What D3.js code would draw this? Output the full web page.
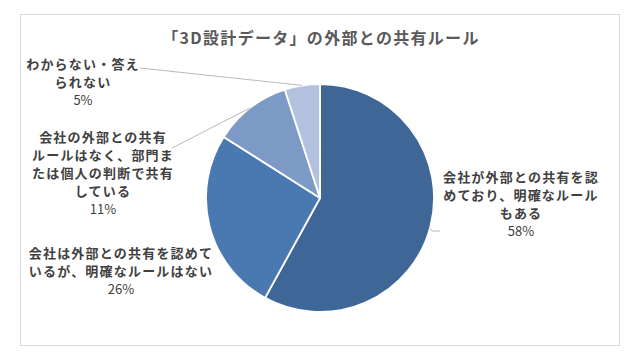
<!DOCTYPE html>
<html><head><meta charset="utf-8">
<script src="https://cdn.jsdelivr.net/npm/d3@7"></script>
<style>
html,body{margin:0;padding:0;background:#fff;}
svg{display:block;font-family:"Noto Sans CJK JP","Noto Sans",sans-serif;}
</style></head>
<body>
<svg id="chart" width="640" height="360"></svg>
<script>
const title = "「3D設計データ」の外部との共有ルール";
const categories = [
  ["会社が外部との共有を認", "めており、明確なルール", "もある"],
  ["会社は外部との共有を認めて", "いるが、明確なルールはない"],
  ["会社の外部との共有", "ルールはなく、部門ま", "たは個人の判断で共有", "している"],
  ["わからない・答え", "られない"]
];
const values = [58, 26, 11, 5];
const percentLabels = ["58%", "26%", "11%", "5%"];
const colors = ["#3e6697", "#4a79b1", "#7d9ac6", "#b2c2de"];

// layout (label centres and leader-line anchors)
const labelPos = [
  {x: 521, y: 176, lx: 440, ly: 231},
  {x: 121, y: 252, lx: null, ly: null},
  {x: 103, y: 136, lx: 172, ly: 148},
  {x: 83,  y: 63,  lx: 140, ly: 68}
];

const svg = d3.select("#chart");
svg.append("rect").attr("x", 20.5).attr("y", 14.5).attr("width", 599).attr("height", 331)
  .attr("fill", "#fff").attr("stroke", "#d9d9d9").attr("stroke-width", 1);

svg.append("text").attr("x", 321).attr("y", 37)
  .attr("text-anchor", "middle").attr("dominant-baseline", "central")
  .attr("font-size", 16).attr("font-weight", "bold").attr("fill", "#595959")
  .style("letter-spacing", "1.3px")
  .text(title);

const cx = 320, cy = 198, R = 114;
const pie = d3.pie().sort(null).value(d => d);
const arcs = pie(values);
const arc = d3.arc().innerRadius(0).outerRadius(R);
const edgeArc = d3.arc().innerRadius(R).outerRadius(R);

const g = svg.append("g").attr("transform", `translate(${cx},${cy})`);
g.selectAll("path").data(arcs).join("path")
  .attr("d", arc)
  .attr("fill", (d, i) => colors[i])
  .attr("stroke", "#fff").attr("stroke-width", 1.8).attr("stroke-linejoin", "round");

// leader lines
arcs.forEach((a, i) => {
  const p = labelPos[i];
  if (p.lx == null) return;
  let [ex, ey] = edgeArc.centroid(a);
  if (i === 0) {
    const ang = Math.atan2(p.ly - cy, p.lx - cx);
    ex = R * Math.cos(ang); ey = R * Math.sin(ang);
    svg.append("polyline")
      .attr("points", `${cx+ex},${cy+ey} ${cx+ex+2},${p.ly} ${p.lx},${p.ly}`)
      .attr("fill", "none").attr("stroke", "#a6a6a6").attr("stroke-width", 0.8);
  } else {
    svg.append("line")
      .attr("x1", p.lx).attr("y1", p.ly).attr("x2", cx + ex).attr("y2", cy + ey)
      .attr("stroke", "#a6a6a6").attr("stroke-width", 0.8);
  }
});

// labels
const lineH = 18;
categories.forEach((lines, i) => {
  const p = labelPos[i];
  const t = svg.append("text").attr("text-anchor", "middle")
    .attr("font-size", 13).attr("font-weight", "bold").attr("fill", "#404040");
  const all = lines.concat([percentLabels[i]]);
  all.forEach((s, k) => {
    const isPct = k === all.length - 1;
    t.append("tspan").attr("x", p.x).attr("y", p.y + k * lineH)
      .attr("dominant-baseline", "central")
      .attr("font-weight", isPct ? "normal" : "bold")
      .style("letter-spacing", isPct ? "0px" : "1.2px")
      .text(s);
  });
});
</script>
</body></html>
